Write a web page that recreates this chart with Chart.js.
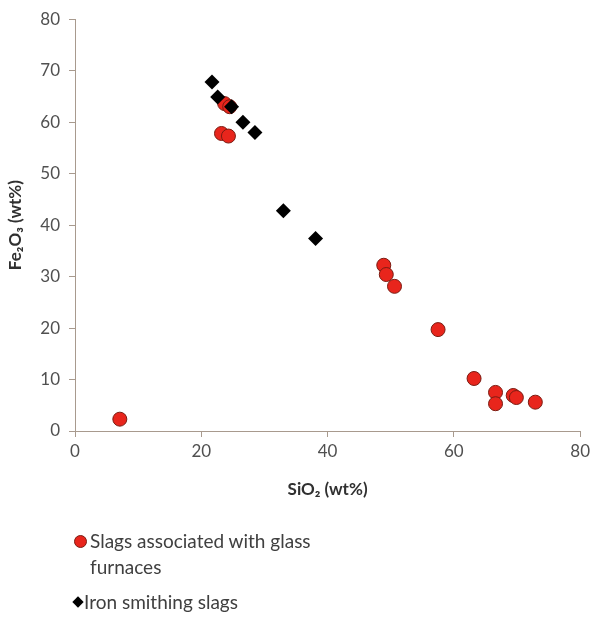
<!DOCTYPE html>
<html>
<head>
<meta charset="utf-8">
<script src="https://cdn.jsdelivr.net/npm/chart.js@4"></script>
<style>
  html, body { margin: 0; padding: 0; background: #fff; }
  #wrap { position: relative; width: 594px; height: 617px; font-family: Lato, "Open Sans", sans-serif; color: #404040; }
  #chart { position: absolute; left: 0; top: 0; }
  .leg { position: absolute; font-size: 19px; line-height: 26px; }
  .dot { position: absolute; width: 11px; height: 11px; border-radius: 50%; background: #e8251c; border: 1px solid #7a1c12; }
  .dia { position: absolute; width: 8px; height: 8px; background: #000; transform: rotate(45deg); }
</style>
</head>
<body>
<div id="wrap">
  <canvas id="chart" width="594" height="617"></canvas>
  <div class="dot" style="left:74px; top:535px;"></div>
  <div class="leg" style="left:90px; top:528px;">Slags associated with glass<br>furnaces</div>
  <div class="dia" style="left:74px; top:598px;"></div>
  <div class="leg" style="left:84px; top:589px;">Iron smithing slags</div>
</div>
<script>
// Slags associated with glass furnaces
const glassX = [7.1, 23.7, 24.5, 23.2, 24.3, 48.9, 49.3, 50.6, 57.5, 63.2, 66.6, 66.6, 69.4, 69.9, 72.9];
const glassY = [2.3, 63.6, 63.0, 57.8, 57.3, 32.2, 30.4, 28.1, 19.7, 10.2, 7.5, 5.3, 6.9, 6.5, 5.6];
// Iron smithing slags
const ironX = [21.7, 22.6, 24.8, 26.6, 28.5, 33.0, 38.1];
const ironY = [67.8, 64.9, 63.0, 60.0, 58.0, 42.8, 37.4];

const axisColor = '#a89a8e';
const textColor = '#505050';

const toPoints = (xs, ys) => xs.map((x, i) => ({ x: x, y: ys[i] }));

const ctx = document.getElementById('chart').getContext('2d');
new Chart(ctx, {
  type: 'scatter',
  data: {
    datasets: [
      {
        label: 'Iron smithing slags',
        data: toPoints(ironX, ironY),
        pointStyle: 'rectRot',
        pointRadius: 7.5,
        backgroundColor: '#000000',
        borderColor: '#000000',
        borderWidth: 0
      },
      {
        label: 'Slags associated with glass furnaces',
        data: toPoints(glassX, glassY),
        pointStyle: 'circle',
        pointRadius: 7,
        backgroundColor: '#e8251c',
        borderColor: '#7a1c12',
        borderWidth: 1
      }
    ]
  },
  options: {
    responsive: false,
    animation: false,
    layout: { padding: { left: 0, right: 12, top: 16, bottom: 117 } },
    plugins: { legend: { display: false }, tooltip: { enabled: false } },
    scales: {
      x: {
        type: 'linear',
        min: 0, max: 80,
        ticks: { stepSize: 20, color: textColor, font: { family: 'Lato', size: 17 }, padding: 4 },
        grid: { drawOnChartArea: false, tickLength: 6, color: axisColor },
        border: { color: axisColor, width: 1 },
        title: { display: true, text: 'SiO₂ (wt%)', color: '#303030', font: { family: 'Lato', size: 17, weight: 'bold' }, padding: 0 },
        afterFit: s => { s.height = 69; }
      },
      y: {
        type: 'linear',
        min: 0, max: 80,
        ticks: { stepSize: 10, color: textColor, font: { family: 'Lato', size: 17 }, padding: 9 },
        grid: { drawOnChartArea: false, tickLength: 6, color: axisColor },
        border: { color: axisColor, width: 1 },
        title: { display: true, text: 'Fe₂O₃ (wt%)', color: '#303030', font: { family: 'Lato', size: 17, weight: 'bold' }, padding: { top: 5 } },
        afterFit: s => { s.width = 75; }
      }
    }
  }
});
</script>
</body>
</html>
